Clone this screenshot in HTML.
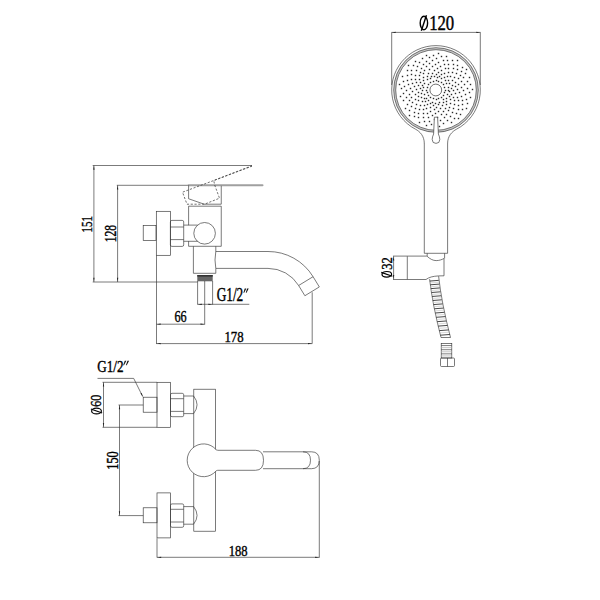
<!DOCTYPE html>
<html><head><meta charset="utf-8"><style>
html,body{margin:0;padding:0;background:#fff;}
svg{display:block;}
text{font-family:"Liberation Serif",serif;fill:#000;}
</style></head><body>
<svg width="600" height="600" viewBox="0 0 600 600">
<rect width="600" height="600" fill="#fff"/>
<line x1="92.7" y1="165.5" x2="252" y2="165.5" stroke="#333" stroke-width="0.65" />
<line x1="93.9" y1="165.5" x2="93.9" y2="282" stroke="#333" stroke-width="0.65" />
<path d="M93.90,165.80 L94.55,169.80 L93.25,169.80 Z" fill="#222"/>
<path d="M93.90,281.80 L93.25,277.80 L94.55,277.80 Z" fill="#222"/>
<text transform="translate(92.45,232.47) rotate(-90) scale(0.717,1)" font-size="15.37" stroke="#000" stroke-width="0.4">151</text>
<line x1="116.8" y1="185.3" x2="188.6" y2="185.3" stroke="#333" stroke-width="0.65" />
<line x1="117.6" y1="185.3" x2="117.6" y2="282" stroke="#333" stroke-width="0.65" />
<path d="M117.60,185.60 L118.25,189.60 L116.95,189.60 Z" fill="#222"/>
<path d="M117.60,281.80 L116.95,277.80 L118.25,277.80 Z" fill="#222"/>
<text transform="translate(115.95,242.32) rotate(-90) scale(0.741,1)" font-size="15.71" stroke="#000" stroke-width="0.4">128</text>
<line x1="92.7" y1="282" x2="197.5" y2="282" stroke="#333" stroke-width="0.65" />
<line x1="188.6" y1="185.3" x2="262.5" y2="185.3" stroke="#a0a0a0" stroke-width="2.0" stroke-linecap="round"/>
<path d="M188.6,185.3 L188.6,198.75 L204.2,204.2 L221.25,204.2 L221.25,185.8" stroke="#333" stroke-width="0.65" fill="none" />
<path d="M252,165.7 L213.8,180.5 L214.5,184.5 L219.5,198.2 L204.5,204.2 L187,204.2 L182.5,192.2 L252,166.2" stroke="#333" stroke-width="0.7" fill="none" stroke-dasharray="2.2,1.6"/>
<path d="M188.6,225.2 L188.6,206.2 L221.25,206.2 L221.25,246.3 L188.6,246.3 L188.6,241.2" stroke="#333" stroke-width="0.65" fill="none" />
<circle cx="204.6" cy="233.3" r="10.8" stroke="#333" stroke-width="0.65" fill="none"/>
<rect x="143.2" y="225.4" width="12.8" height="15.2" rx="0" stroke="#333" stroke-width="0.65" fill="none"/>
<rect x="156.3" y="211.3" width="14.1" height="44" rx="0" stroke="#333" stroke-width="0.65" fill="none"/>
<line x1="156.5" y1="255.3" x2="156.5" y2="344" stroke="#333" stroke-width="0.65" />
<rect x="170.4" y="220.4" width="13.3" height="26" rx="1.5" stroke="#333" stroke-width="0.65" fill="none"/>
<line x1="170.4" y1="227" x2="183.7" y2="227" stroke="#333" stroke-width="0.65" />
<line x1="170.4" y1="239.6" x2="183.7" y2="239.6" stroke="#333" stroke-width="0.65" />
<line x1="183.7" y1="225.1" x2="197.5" y2="225.1" stroke="#333" stroke-width="0.65" />
<line x1="183.7" y1="241.3" x2="197.5" y2="241.3" stroke="#333" stroke-width="0.65" />
<path d="M193.4,246.3 L193.4,273.3 L215.8,273.3 L215.8,268.5" stroke="#333" stroke-width="0.65" fill="none" />
<line x1="215.8" y1="246.3" x2="215.8" y2="251.5" stroke="#333" stroke-width="0.65" />
<path d="M215.8,251.5 Q214.2,260 215.8,268.4" stroke="#333" stroke-width="0.65" fill="none" />
<path d="M215.8,251.5 L268,251.5 A52.8,52.8 0 0 1 313.07,276.69" stroke="#333" stroke-width="0.65" fill="none" />
<path d="M215.8,268.4 L268,268.4 A35.9,35.9 0 0 1 298.64,285.50" stroke="#333" stroke-width="0.65" fill="none" />
<path d="M313.07,276.69 L298.64,285.50 L304.89,295.74 L319.32,286.93 Z" stroke="#333" stroke-width="0.65" fill="none" />
<rect x="197.3" y="275" width="15.4" height="6.3" fill="#666"/>
<rect x="197.3" y="275" width="15.4" height="1.6" fill="#333"/>
<line x1="197.6" y1="281" x2="197.6" y2="304.6" stroke="#333" stroke-width="0.65" />
<line x1="212.6" y1="281" x2="212.6" y2="304.6" stroke="#333" stroke-width="0.65" />
<line x1="204.7" y1="281" x2="204.7" y2="324.6" stroke="#333" stroke-width="0.65" />
<line x1="197.6" y1="304.3" x2="249.3" y2="304.3" stroke="#333" stroke-width="0.65" />
<path d="M197.80,304.30 L201.80,303.65 L201.80,304.95 Z" fill="#222"/>
<path d="M212.40,304.30 L208.40,304.95 L208.40,303.65 Z" fill="#222"/>
<text transform="translate(216.65,301.42) scale(0.711,1)" font-size="18.75" stroke="#000" stroke-width="0.4">G1/2</text>
<path d="M243.40,292.80 L244.73,288.40 L246.33,288.40 L244.20,292.80 Z" fill="#111"/>
<path d="M245.79,292.80 L247.12,288.40 L248.72,288.40 L246.59,292.80 Z" fill="#111"/>
<line x1="156.5" y1="324.2" x2="204.7" y2="324.2" stroke="#333" stroke-width="0.65" />
<path d="M156.70,324.20 L160.70,323.55 L160.70,324.85 Z" fill="#222"/>
<path d="M204.50,324.20 L200.50,324.85 L200.50,323.55 Z" fill="#222"/>
<text transform="translate(174.48,322.44) scale(0.744,1)" font-size="16.37" stroke="#000" stroke-width="0.4">66</text>
<line x1="156.5" y1="343.6" x2="312.2" y2="343.6" stroke="#333" stroke-width="0.65" />
<path d="M156.70,343.60 L160.70,342.95 L160.70,344.25 Z" fill="#222"/>
<path d="M312.00,343.60 L308.00,344.25 L308.00,342.95 Z" fill="#222"/>
<line x1="312.2" y1="292.3" x2="312.2" y2="343.6" stroke="#333" stroke-width="0.65" />
<text transform="translate(224.47,341.85) scale(0.823,1)" font-size="15.56" stroke="#000" stroke-width="0.4">178</text>
<rect x="143.2" y="397.2" width="13.8" height="15" rx="0" stroke="#333" stroke-width="0.65" fill="none"/>
<rect x="157" y="382.3" width="13.5" height="45" rx="0" stroke="#333" stroke-width="0.65" fill="none"/>
<rect x="170.5" y="393.3" width="13.2" height="23.4" rx="1.5" stroke="#333" stroke-width="0.65" fill="none"/>
<line x1="170.5" y1="398.7" x2="183.7" y2="398.7" stroke="#333" stroke-width="0.65" />
<line x1="170.5" y1="411.4" x2="183.7" y2="411.4" stroke="#333" stroke-width="0.65" />
<path d="M183.7,396 L193.6,396 Q200.5,404.8 193.6,413.6 L183.7,413.6" stroke="#333" stroke-width="0.65" fill="none" />
<rect x="143.2" y="507.79999999999995" width="13.8" height="15" rx="0" stroke="#333" stroke-width="0.65" fill="none"/>
<rect x="157" y="492.9" width="13.5" height="45" rx="0" stroke="#333" stroke-width="0.65" fill="none"/>
<rect x="170.5" y="503.9" width="13.2" height="23.4" rx="1.5" stroke="#333" stroke-width="0.65" fill="none"/>
<line x1="170.5" y1="509.29999999999995" x2="183.7" y2="509.29999999999995" stroke="#333" stroke-width="0.65" />
<line x1="170.5" y1="522.0" x2="183.7" y2="522.0" stroke="#333" stroke-width="0.65" />
<path d="M183.7,506.6 L193.6,506.6 Q200.5,515.4 193.6,524.2 L183.7,524.2" stroke="#333" stroke-width="0.65" fill="none" />
<text transform="translate(97.26,371.84) scale(0.795,1)" font-size="16.52" stroke="#000" stroke-width="0.4">G1/2</text>
<path d="M123.20,365.30 L124.78,360.70 L126.38,360.70 L124.00,365.30 Z" fill="#111"/>
<path d="M125.90,365.30 L127.49,360.70 L129.09,360.70 L126.70,365.30 Z" fill="#111"/>
<path d="M97.5,378.4 L133.7,378.4 L142.7,396.5" stroke="#333" stroke-width="0.65" fill="none" />
<path d="M142.90,396.80 L140.53,393.51 L141.69,392.93 Z" fill="#222"/>
<line x1="102.5" y1="382.3" x2="157" y2="382.3" stroke="#333" stroke-width="0.65" />
<line x1="102.5" y1="427.3" x2="157" y2="427.3" stroke="#333" stroke-width="0.65" />
<line x1="103.5" y1="382.3" x2="103.5" y2="427.3" stroke="#333" stroke-width="0.65" />
<path d="M103.50,382.60 L104.15,386.60 L102.85,386.60 Z" fill="#222"/>
<path d="M103.50,427.00 L102.85,423.00 L104.15,423.00 Z" fill="#222"/>
<text transform="translate(101.45,406.71) rotate(-90) scale(0.792,1)" font-size="15.12" stroke="#000" stroke-width="0.4">60</text>
<g transform="translate(96.5,411) rotate(-90)"><ellipse cx="0" cy="0" rx="2.9" ry="4.9" stroke="#000" stroke-width="1.2" fill="none"/><line x1="-2.00" y1="5.63" x2="2.00" y2="-5.63" stroke="#000" stroke-width="1.2"/></g>
<line x1="118.5" y1="405" x2="143.2" y2="405" stroke="#333" stroke-width="0.65" />
<line x1="118.5" y1="515.6" x2="143.2" y2="515.6" stroke="#333" stroke-width="0.65" />
<line x1="119.5" y1="405" x2="119.5" y2="515.6" stroke="#333" stroke-width="0.65" />
<path d="M119.50,405.30 L120.15,409.30 L118.85,409.30 Z" fill="#222"/>
<path d="M119.50,515.30 L118.85,511.30 L120.15,511.30 Z" fill="#222"/>
<text transform="translate(117.75,469.68) rotate(-90) scale(0.776,1)" font-size="15.86" stroke="#000" stroke-width="0.4">150</text>
<rect x="193.8" y="389.2" width="21.8" height="142" rx="0" stroke="#333" stroke-width="0.65" fill="none"/>
<circle cx="203.6" cy="460.3" r="16.4" fill="#fff" stroke="none"/>
<rect x="210" y="450.4" width="8" height="19.8" fill="#fff"/>
<path d="M216.16,449.76 A16.4,16.4 0 1 0 216.16,470.84 Q217.66,470.3 217.8,470.3 L255.5,470.3 Q263.5,470.3 263.5,460.3 Q263.5,450.3 255.5,450.3 L217.8,450.3 Q217.66,450.3 216.16,449.76" stroke="#333" stroke-width="0.65" fill="none" />
<path d="M263,451.8 L303,451.8 Q310.5,451.8 310.5,460.2 Q310.5,468.7 303,468.7 L263,468.7" stroke="#333" stroke-width="0.65" fill="none" />
<path d="M303,451.8 L311.5,451.8 Q319.3,451.8 319.3,460.2 Q319.3,468.7 311.5,468.7 L303,468.7" stroke="#333" stroke-width="0.65" fill="none" />
<line x1="157" y1="538.3" x2="157" y2="557.6" stroke="#333" stroke-width="0.65" />
<line x1="319.3" y1="461" x2="319.3" y2="557.6" stroke="#333" stroke-width="0.65" />
<line x1="157" y1="557.3" x2="319.3" y2="557.3" stroke="#333" stroke-width="0.65" />
<path d="M157.20,557.30 L161.20,556.65 L161.20,557.95 Z" fill="#222"/>
<path d="M319.10,557.30 L315.10,557.95 L315.10,556.65 Z" fill="#222"/>
<text transform="translate(228.79,555.55) scale(0.817,1)" font-size="15.41" stroke="#000" stroke-width="0.4">188</text>
<text transform="translate(429.13,29.70) scale(0.807,1)" font-size="20.75" stroke="#000" stroke-width="0.45">120</text>
<g transform="translate(423.9,23) rotate(0)"><ellipse cx="0" cy="0" rx="3.7" ry="6.7" stroke="#000" stroke-width="1.4" fill="none"/><line x1="-2.55" y1="7.70" x2="2.55" y2="-7.70" stroke="#000" stroke-width="1.4"/></g>
<line x1="391.5" y1="32.4" x2="480.5" y2="32.4" stroke="#333" stroke-width="0.65" />
<path d="M391.70,32.40 L395.70,31.75 L395.70,33.05 Z" fill="#222"/>
<path d="M480.30,32.40 L476.30,33.05 L476.30,31.75 Z" fill="#222"/>
<line x1="391.7" y1="32.4" x2="391.7" y2="85" stroke="#333" stroke-width="0.65" />
<line x1="480.3" y1="32.4" x2="480.3" y2="85" stroke="#333" stroke-width="0.65" />
<path d="M415.5,129.2 A44.3,44.3 0 1 1 456.5,129.2" stroke="#333" stroke-width="0.65" fill="none" />
<path d="M415.5,129.2 C419.9,131.5 424.3,136 424.3,143.5" stroke="#333" stroke-width="0.65" fill="none" />
<path d="M456.5,129.2 C452.1,131.5 447.6,136 447.6,143.5" stroke="#333" stroke-width="0.65" fill="none" />
<circle cx="436" cy="90" r="41.3" stroke="#c8c8c8" stroke-width="1.9" fill="none"/>
<circle cx="436" cy="90" r="42.3" stroke="#333" stroke-width="0.65" fill="none"/>
<circle cx="436" cy="90" r="40.3" stroke="#333" stroke-width="0.65" fill="none"/>
<circle cx="435.8" cy="90" r="5.9" stroke="#555" stroke-width="0.85" fill="none"/>
<g fill="#2a2a2a"><rect x="444.8" y="89.8" width="1.4" height="1.4"/><rect x="443.8" y="91.8" width="1.4" height="1.4"/><rect x="442.8" y="94.8" width="1.4" height="1.4"/><rect x="440.8" y="96.8" width="1.4" height="1.4"/><rect x="437.8" y="97.8" width="1.4" height="1.4"/><rect x="435.8" y="98.8" width="1.4" height="1.4"/><rect x="432.8" y="97.8" width="1.4" height="1.4"/><rect x="429.8" y="96.8" width="1.4" height="1.4"/><rect x="427.8" y="94.8" width="1.4" height="1.4"/><rect x="426.8" y="91.8" width="1.4" height="1.4"/><rect x="425.8" y="89.8" width="1.4" height="1.4"/><rect x="426.8" y="86.8" width="1.4" height="1.4"/><rect x="427.8" y="83.8" width="1.4" height="1.4"/><rect x="429.8" y="81.8" width="1.4" height="1.4"/><rect x="432.8" y="80.8" width="1.4" height="1.4"/><rect x="435.8" y="79.8" width="1.4" height="1.4"/><rect x="437.8" y="80.8" width="1.4" height="1.4"/><rect x="440.8" y="81.8" width="1.4" height="1.4"/><rect x="442.8" y="83.8" width="1.4" height="1.4"/><rect x="443.8" y="86.8" width="1.4" height="1.4"/><rect x="447.8" y="89.8" width="1.4" height="1.4"/><rect x="425.8" y="97.8" width="1.4" height="1.4"/><rect x="436.8" y="76.8" width="1.4" height="1.4"/><rect x="442.8" y="98.8" width="1.4" height="1.4"/><rect x="422.8" y="86.8" width="1.4" height="1.4"/><rect x="445.8" y="82.8" width="1.4" height="1.4"/><rect x="431.8" y="101.8" width="1.4" height="1.4"/><rect x="429.8" y="77.8" width="1.4" height="1.4"/><rect x="446.8" y="93.8" width="1.4" height="1.4"/><rect x="423.8" y="93.8" width="1.4" height="1.4"/><rect x="440.8" y="77.8" width="1.4" height="1.4"/><rect x="438.8" y="101.8" width="1.4" height="1.4"/><rect x="423.8" y="82.8" width="1.4" height="1.4"/><rect x="447.8" y="86.8" width="1.4" height="1.4"/><rect x="427.8" y="99.8" width="1.4" height="1.4"/><rect x="433.8" y="75.8" width="1.4" height="1.4"/><rect x="445.8" y="97.8" width="1.4" height="1.4"/><rect x="421.8" y="89.8" width="1.4" height="1.4"/><rect x="444.8" y="79.8" width="1.4" height="1.4"/><rect x="434.8" y="102.8" width="1.4" height="1.4"/><rect x="426.8" y="78.8" width="1.4" height="1.4"/><rect x="448.8" y="90.8" width="1.4" height="1.4"/><rect x="423.8" y="97.8" width="1.4" height="1.4"/><rect x="438.8" y="75.8" width="1.4" height="1.4"/><rect x="442.8" y="101.8" width="1.4" height="1.4"/><rect x="421.8" y="84.8" width="1.4" height="1.4"/><rect x="448.8" y="82.8" width="1.4" height="1.4"/><rect x="429.8" y="102.8" width="1.4" height="1.4"/><rect x="430.8" y="75.8" width="1.4" height="1.4"/><rect x="448.8" y="95.8" width="1.4" height="1.4"/><rect x="420.8" y="92.8" width="1.4" height="1.4"/><rect x="443.8" y="76.8" width="1.4" height="1.4"/><rect x="437.8" y="103.8" width="1.4" height="1.4"/><rect x="422.8" y="79.8" width="1.4" height="1.4"/><rect x="450.8" y="87.8" width="1.4" height="1.4"/><rect x="424.8" y="100.8" width="1.4" height="1.4"/><rect x="435.8" y="73.8" width="1.4" height="1.4"/><rect x="445.8" y="100.8" width="1.4" height="1.4"/><rect x="419.8" y="87.8" width="1.4" height="1.4"/><rect x="447.8" y="79.8" width="1.4" height="1.4"/><rect x="432.8" y="104.8" width="1.4" height="1.4"/><rect x="426.8" y="75.8" width="1.4" height="1.4"/><rect x="450.8" y="93.8" width="1.4" height="1.4"/><rect x="420.8" y="96.8" width="1.4" height="1.4"/><rect x="440.8" y="73.8" width="1.4" height="1.4"/><rect x="441.8" y="104.8" width="1.4" height="1.4"/><rect x="419.8" y="81.8" width="1.4" height="1.4"/><rect x="451.8" y="84.8" width="1.4" height="1.4"/><rect x="426.8" y="103.8" width="1.4" height="1.4"/><rect x="431.8" y="72.8" width="1.4" height="1.4"/><rect x="449.8" y="98.8" width="1.4" height="1.4"/><rect x="417.8" y="91.8" width="1.4" height="1.4"/><rect x="446.8" y="75.8" width="1.4" height="1.4"/><rect x="435.8" y="106.8" width="1.4" height="1.4"/><rect x="422.8" y="76.8" width="1.4" height="1.4"/><rect x="452.8" y="89.8" width="1.4" height="1.4"/><rect x="421.8" y="100.8" width="1.4" height="1.4"/><rect x="437.8" y="71.8" width="1.4" height="1.4"/><rect x="445.8" y="103.8" width="1.4" height="1.4"/><rect x="417.8" y="84.8" width="1.4" height="1.4"/><rect x="451.8" y="79.8" width="1.4" height="1.4"/><rect x="429.8" y="106.8" width="1.4" height="1.4"/><rect x="427.8" y="72.8" width="1.4" height="1.4"/><rect x="452.8" y="96.8" width="1.4" height="1.4"/><rect x="417.8" y="95.8" width="1.4" height="1.4"/><rect x="443.8" y="72.8" width="1.4" height="1.4"/><rect x="439.8" y="107.8" width="1.4" height="1.4"/><rect x="418.8" y="78.8" width="1.4" height="1.4"/><rect x="454.8" y="85.8" width="1.4" height="1.4"/><rect x="423.8" y="104.8" width="1.4" height="1.4"/><rect x="433.8" y="69.8" width="1.4" height="1.4"/><rect x="449.8" y="102.8" width="1.4" height="1.4"/><rect x="415.8" y="88.8" width="1.4" height="1.4"/><rect x="449.8" y="75.8" width="1.4" height="1.4"/><rect x="433.8" y="108.8" width="1.4" height="1.4"/><rect x="422.8" y="72.8" width="1.4" height="1.4"/><rect x="454.8" y="92.8" width="1.4" height="1.4"/><rect x="417.8" y="99.8" width="1.4" height="1.4"/><rect x="440.8" y="69.8" width="1.4" height="1.4"/><rect x="444.8" y="107.8" width="1.4" height="1.4"/><rect x="415.8" y="81.8" width="1.4" height="1.4"/><rect x="454.8" y="81.8" width="1.4" height="1.4"/><rect x="425.8" y="107.8" width="1.4" height="1.4"/><rect x="428.8" y="68.8" width="1.4" height="1.4"/><rect x="453.8" y="99.8" width="1.4" height="1.4"/><rect x="414.8" y="93.8" width="1.4" height="1.4"/><rect x="447.8" y="71.8" width="1.4" height="1.4"/><rect x="437.8" y="110.8" width="1.4" height="1.4"/><rect x="418.8" y="74.8" width="1.4" height="1.4"/><rect x="456.8" y="88.8" width="1.4" height="1.4"/><rect x="419.8" y="104.8" width="1.4" height="1.4"/><rect x="436.8" y="67.8" width="1.4" height="1.4"/><rect x="448.8" y="106.8" width="1.4" height="1.4"/><rect x="413.8" y="85.8" width="1.4" height="1.4"/><rect x="453.8" y="76.8" width="1.4" height="1.4"/><rect x="429.8" y="110.8" width="1.4" height="1.4"/><rect x="423.8" y="69.8" width="1.4" height="1.4"/><rect x="456.8" y="96.8" width="1.4" height="1.4"/><rect x="414.8" y="98.8" width="1.4" height="1.4"/><rect x="444.8" y="67.8" width="1.4" height="1.4"/><rect x="442.8" y="110.8" width="1.4" height="1.4"/><rect x="414.8" y="78.8" width="1.4" height="1.4"/><rect x="457.8" y="83.8" width="1.4" height="1.4"/><rect x="422.8" y="108.8" width="1.4" height="1.4"/><rect x="431.8" y="65.8" width="1.4" height="1.4"/><rect x="453.8" y="103.8" width="1.4" height="1.4"/><rect x="411.8" y="90.8" width="1.4" height="1.4"/><rect x="451.8" y="71.8" width="1.4" height="1.4"/><rect x="434.8" y="112.8" width="1.4" height="1.4"/><rect x="419.8" y="71.8" width="1.4" height="1.4"/><rect x="458.8" y="91.8" width="1.4" height="1.4"/><rect x="415.8" y="103.8" width="1.4" height="1.4"/><rect x="439.8" y="65.8" width="1.4" height="1.4"/><rect x="447.8" y="109.8" width="1.4" height="1.4"/><rect x="411.8" y="82.8" width="1.4" height="1.4"/><rect x="457.8" y="77.8" width="1.4" height="1.4"/><rect x="426.8" y="112.8" width="1.4" height="1.4"/><rect x="425.8" y="65.8" width="1.4" height="1.4"/><rect x="457.8" y="99.8" width="1.4" height="1.4"/><rect x="410.8" y="96.8" width="1.4" height="1.4"/><rect x="447.8" y="67.8" width="1.4" height="1.4"/><rect x="440.8" y="113.8" width="1.4" height="1.4"/><rect x="414.8" y="74.8" width="1.4" height="1.4"/><rect x="460.8" y="86.8" width="1.4" height="1.4"/><rect x="418.8" y="108.8" width="1.4" height="1.4"/><rect x="434.8" y="63.8" width="1.4" height="1.4"/><rect x="452.8" y="107.8" width="1.4" height="1.4"/><rect x="409.8" y="87.8" width="1.4" height="1.4"/><rect x="455.8" y="72.8" width="1.4" height="1.4"/><rect x="431.8" y="114.8" width="1.4" height="1.4"/><rect x="420.8" y="67.8" width="1.4" height="1.4"/><rect x="460.8" y="95.8" width="1.4" height="1.4"/><rect x="411.8" y="101.8" width="1.4" height="1.4"/><rect x="443.8" y="63.8" width="1.4" height="1.4"/><rect x="445.8" y="113.8" width="1.4" height="1.4"/><rect x="410.8" y="78.8" width="1.4" height="1.4"/><rect x="460.8" y="80.8" width="1.4" height="1.4"/><rect x="422.8" y="112.8" width="1.4" height="1.4"/><rect x="428.8" y="62.8" width="1.4" height="1.4"/><rect x="457.8" y="104.8" width="1.4" height="1.4"/><rect x="408.8" y="93.8" width="1.4" height="1.4"/><rect x="452.8" y="67.8" width="1.4" height="1.4"/><rect x="436.8" y="116.8" width="1.4" height="1.4"/><rect x="415.8" y="69.8" width="1.4" height="1.4"/><rect x="462.8" y="89.8" width="1.4" height="1.4"/><rect x="414.8" y="107.8" width="1.4" height="1.4"/><rect x="437.8" y="61.8" width="1.4" height="1.4"/><rect x="451.8" y="111.8" width="1.4" height="1.4"/><rect x="407.8" y="83.8" width="1.4" height="1.4"/><rect x="459.8" y="74.8" width="1.4" height="1.4"/><rect x="427.8" y="116.8" width="1.4" height="1.4"/><rect x="422.8" y="63.8" width="1.4" height="1.4"/><rect x="461.8" y="99.8" width="1.4" height="1.4"/><rect x="408.8" y="99.8" width="1.4" height="1.4"/><rect x="447.8" y="63.8" width="1.4" height="1.4"/><rect x="443.8" y="116.8" width="1.4" height="1.4"/><rect x="410.8" y="73.8" width="1.4" height="1.4"/><rect x="463.8" y="83.8" width="1.4" height="1.4"/><rect x="417.8" y="112.8" width="1.4" height="1.4"/><rect x="431.8" y="59.8" width="1.4" height="1.4"/><rect x="457.8" y="108.8" width="1.4" height="1.4"/><rect x="405.8" y="89.8" width="1.4" height="1.4"/><rect x="456.8" y="68.8" width="1.4" height="1.4"/><rect x="433.8" y="118.8" width="1.4" height="1.4"/><rect x="416.8" y="65.8" width="1.4" height="1.4"/><rect x="464.8" y="93.8" width="1.4" height="1.4"/><rect x="410.8" y="105.8" width="1.4" height="1.4"/><rect x="442.8" y="59.8" width="1.4" height="1.4"/><rect x="449.8" y="115.8" width="1.4" height="1.4"/><rect x="406.8" y="79.8" width="1.4" height="1.4"/><rect x="462.8" y="76.8" width="1.4" height="1.4"/><rect x="422.8" y="116.8" width="1.4" height="1.4"/><rect x="425.8" y="60.8" width="1.4" height="1.4"/><rect x="461.8" y="103.8" width="1.4" height="1.4"/><rect x="405.8" y="96.8" width="1.4" height="1.4"/><rect x="452.8" y="63.8" width="1.4" height="1.4"/><rect x="439.8" y="119.8" width="1.4" height="1.4"/><rect x="410.8" y="69.8" width="1.4" height="1.4"/><rect x="466.8" y="87.8" width="1.4" height="1.4"/><rect x="413.8" y="111.8" width="1.4" height="1.4"/><rect x="435.8" y="57.8" width="1.4" height="1.4"/><rect x="455.8" y="112.8" width="1.4" height="1.4"/><rect x="403.8" y="85.8" width="1.4" height="1.4"/><rect x="460.8" y="70.8" width="1.4" height="1.4"/><rect x="428.8" y="120.8" width="1.4" height="1.4"/><rect x="418.8" y="61.8" width="1.4" height="1.4"/><rect x="465.8" y="98.8" width="1.4" height="1.4"/><rect x="406.8" y="103.8" width="1.4" height="1.4"/><rect x="446.8" y="59.8" width="1.4" height="1.4"/><rect x="446.8" y="119.8" width="1.4" height="1.4"/><rect x="406.8" y="74.8" width="1.4" height="1.4"/><rect x="466.8" y="80.8" width="1.4" height="1.4"/><rect x="417.8" y="116.8" width="1.4" height="1.4"/><rect x="428.8" y="56.8" width="1.4" height="1.4"/><rect x="461.8" y="108.8" width="1.4" height="1.4"/><rect x="402.8" y="92.8" width="1.4" height="1.4"/><rect x="456.8" y="64.8" width="1.4" height="1.4"/><rect x="435.8" y="122.8" width="1.4" height="1.4"/><rect x="412.8" y="64.8" width="1.4" height="1.4"/><rect x="468.8" y="91.8" width="1.4" height="1.4"/><rect x="408.8" y="109.8" width="1.4" height="1.4"/><rect x="440.8" y="55.8" width="1.4" height="1.4"/><rect x="453.8" y="117.8" width="1.4" height="1.4"/><rect x="402.8" y="80.8" width="1.4" height="1.4"/><rect x="464.8" y="72.8" width="1.4" height="1.4"/><rect x="423.8" y="120.8" width="1.4" height="1.4"/><rect x="421.8" y="57.8" width="1.4" height="1.4"/><rect x="466.8" y="102.8" width="1.4" height="1.4"/><rect x="402.8" y="99.8" width="1.4" height="1.4"/><rect x="451.8" y="59.8" width="1.4" height="1.4"/><rect x="442.8" y="122.8" width="1.4" height="1.4"/><rect x="406.8" y="69.8" width="1.4" height="1.4"/><rect x="469.8" y="83.8" width="1.4" height="1.4"/><rect x="413.8" y="115.8" width="1.4" height="1.4"/><rect x="432.8" y="54.8" width="1.4" height="1.4"/><rect x="459.8" y="113.8" width="1.4" height="1.4"/><rect x="400.8" y="87.8" width="1.4" height="1.4"/><rect x="461.8" y="66.8" width="1.4" height="1.4"/><rect x="430.8" y="123.8" width="1.4" height="1.4"/><rect x="414.8" y="60.8" width="1.4" height="1.4"/><rect x="469.8" y="96.8" width="1.4" height="1.4"/><rect x="404.8" y="107.8" width="1.4" height="1.4"/><rect x="445.8" y="55.8" width="1.4" height="1.4"/><rect x="450.8" y="121.8" width="1.4" height="1.4"/><rect x="401.8" y="75.8" width="1.4" height="1.4"/><rect x="468.8" y="76.8" width="1.4" height="1.4"/><rect x="418.8" y="121.8" width="1.4" height="1.4"/><rect x="425.8" y="54.8" width="1.4" height="1.4"/><rect x="465.8" y="107.8" width="1.4" height="1.4"/><rect x="399.8" y="95.8" width="1.4" height="1.4"/><rect x="456.8" y="59.8" width="1.4" height="1.4"/><rect x="438.8" y="125.8" width="1.4" height="1.4"/><rect x="407.8" y="64.8" width="1.4" height="1.4"/><rect x="471.8" y="88.8" width="1.4" height="1.4"/><rect x="408.8" y="114.8" width="1.4" height="1.4"/><rect x="437.8" y="52.8" width="1.4" height="1.4"/><rect x="457.8" y="117.8" width="1.4" height="1.4"/><rect x="398.8" y="83.8" width="1.4" height="1.4"/><rect x="465.8" y="68.8" width="1.4" height="1.4"/><rect x="425.8" y="124.8" width="1.4" height="1.4"/></g>
<line x1="424.3" y1="143.3" x2="424.3" y2="253.3" stroke="#333" stroke-width="0.65" />
<line x1="447.6" y1="143.3" x2="447.6" y2="253.3" stroke="#333" stroke-width="0.65" />
<line x1="424.3" y1="253.3" x2="447.6" y2="253.3" stroke="#333" stroke-width="0.65" />
<path d="M434.4,117.2 L437.6,117.2 L438.4,134 Q439.8,137 439.8,139.5 Q439.8,143.4 436,143.4 Q432.2,143.4 432.2,139.5 Q432.2,137 433.6,134 Z" stroke="#333" stroke-width="0.65" fill="#fff" />
<line x1="393" y1="256.1" x2="426.9" y2="256.1" stroke="#333" stroke-width="0.65" />
<line x1="427.2" y1="253.3" x2="427.2" y2="256.1" stroke="#333" stroke-width="0.65" />
<line x1="444.6" y1="253.3" x2="444.6" y2="258.5" stroke="#333" stroke-width="0.65" />
<path d="M426.9,256.1 C430,259 433,260.6 436.2,260.6 C439.5,260.6 442,259.5 444,258.5 L444,275.8 L438.6,275.9 C433,276.2 429,277.2 426,279.5" stroke="#333" stroke-width="0.65" fill="none" />
<line x1="393" y1="279.5" x2="426" y2="279.5" stroke="#333" stroke-width="0.65" />
<line x1="407.3" y1="256.3" x2="407.3" y2="279.3" stroke="#333" stroke-width="0.65" />
<line x1="393.6" y1="256.3" x2="393.6" y2="279.3" stroke="#333" stroke-width="0.65" />
<path d="M393.60,256.60 L394.25,260.60 L392.95,260.60 Z" fill="#222"/>
<path d="M393.60,279.00 L392.95,275.00 L394.25,275.00 Z" fill="#222"/>
<text transform="translate(391.65,269.80) rotate(-90) scale(0.838,1)" font-size="15.03" stroke="#000" stroke-width="0.4">32</text>
<g transform="translate(386.8,274.3) rotate(-90)"><ellipse cx="0" cy="0" rx="2.8" ry="4.8" stroke="#000" stroke-width="1.2" fill="none"/><line x1="-1.93" y1="5.52" x2="1.93" y2="-5.52" stroke="#000" stroke-width="1.2"/></g>
<path d="M429.6,279.2 Q432.6,305 441,337.5 L450.5,337.5 Q441.5,303 438.6,276.2" stroke="#333" stroke-width="0.65" fill="none" />
<line x1="429.82" y1="281.05" x2="438.81" y2="280.35" stroke="#333" stroke-width="0.9"/><line x1="430.06" y1="282.92" x2="439.05" y2="282.22" stroke="#c0c0c0" stroke-width="0.6"/><line x1="430.30" y1="284.81" x2="439.29" y2="284.11" stroke="#333" stroke-width="0.9"/><line x1="430.57" y1="286.71" x2="439.55" y2="286.01" stroke="#c0c0c0" stroke-width="0.6"/><line x1="430.84" y1="288.63" x2="439.83" y2="287.93" stroke="#333" stroke-width="0.9"/><line x1="431.13" y1="290.56" x2="440.12" y2="289.86" stroke="#c0c0c0" stroke-width="0.6"/><line x1="431.44" y1="292.52" x2="440.43" y2="291.82" stroke="#333" stroke-width="0.9"/><line x1="431.76" y1="294.49" x2="440.76" y2="293.79" stroke="#c0c0c0" stroke-width="0.6"/><line x1="432.09" y1="296.48" x2="441.09" y2="295.78" stroke="#333" stroke-width="0.9"/><line x1="432.43" y1="298.48" x2="441.45" y2="297.78" stroke="#c0c0c0" stroke-width="0.6"/><line x1="432.79" y1="300.51" x2="441.82" y2="299.81" stroke="#333" stroke-width="0.9"/><line x1="433.16" y1="302.54" x2="442.21" y2="301.84" stroke="#c0c0c0" stroke-width="0.6"/><line x1="433.55" y1="304.60" x2="442.61" y2="303.90" stroke="#333" stroke-width="0.9"/><line x1="433.95" y1="306.68" x2="443.02" y2="305.98" stroke="#c0c0c0" stroke-width="0.6"/><line x1="434.36" y1="308.77" x2="443.46" y2="308.07" stroke="#333" stroke-width="0.9"/><line x1="434.79" y1="310.87" x2="443.91" y2="310.17" stroke="#c0c0c0" stroke-width="0.6"/><line x1="435.23" y1="313.00" x2="444.37" y2="312.30" stroke="#333" stroke-width="0.9"/><line x1="435.69" y1="315.14" x2="444.85" y2="314.44" stroke="#c0c0c0" stroke-width="0.6"/><line x1="436.16" y1="317.30" x2="445.34" y2="316.60" stroke="#333" stroke-width="0.9"/><line x1="436.64" y1="319.48" x2="445.86" y2="318.78" stroke="#c0c0c0" stroke-width="0.6"/><line x1="437.14" y1="321.67" x2="446.38" y2="320.97" stroke="#333" stroke-width="0.9"/><line x1="437.65" y1="323.88" x2="446.92" y2="323.18" stroke="#c0c0c0" stroke-width="0.6"/><line x1="438.17" y1="326.11" x2="447.48" y2="325.41" stroke="#333" stroke-width="0.9"/><line x1="438.71" y1="328.35" x2="448.05" y2="327.65" stroke="#c0c0c0" stroke-width="0.6"/><line x1="439.26" y1="330.61" x2="448.64" y2="329.91" stroke="#333" stroke-width="0.9"/><line x1="439.83" y1="332.89" x2="449.25" y2="332.19" stroke="#c0c0c0" stroke-width="0.6"/><line x1="440.41" y1="335.19" x2="449.86" y2="334.49" stroke="#333" stroke-width="0.9"/>
<rect x="441.2" y="343.5" width="10.6" height="14.5" rx="0" stroke="#333" stroke-width="0.65" fill="none"/>
<line x1="441.2" y1="345.57142857142856" x2="451.8" y2="345.57142857142856" stroke="#444" stroke-width="0.7" />
<line x1="441.2" y1="347.64285714285717" x2="451.8" y2="347.64285714285717" stroke="#aaa" stroke-width="0.7" />
<line x1="441.2" y1="349.7142857142857" x2="451.8" y2="349.7142857142857" stroke="#444" stroke-width="0.7" />
<line x1="441.2" y1="351.7857142857143" x2="451.8" y2="351.7857142857143" stroke="#aaa" stroke-width="0.7" />
<line x1="441.2" y1="353.85714285714283" x2="451.8" y2="353.85714285714283" stroke="#444" stroke-width="0.7" />
<line x1="441.2" y1="355.92857142857144" x2="451.8" y2="355.92857142857144" stroke="#aaa" stroke-width="0.7" />
<rect x="440.5" y="358" width="14" height="8.5" rx="1" stroke="#333" stroke-width="0.65" fill="none"/>
<line x1="447.5" y1="358" x2="447.5" y2="366.5" stroke="#333" stroke-width="0.65" />
</svg></body></html>
